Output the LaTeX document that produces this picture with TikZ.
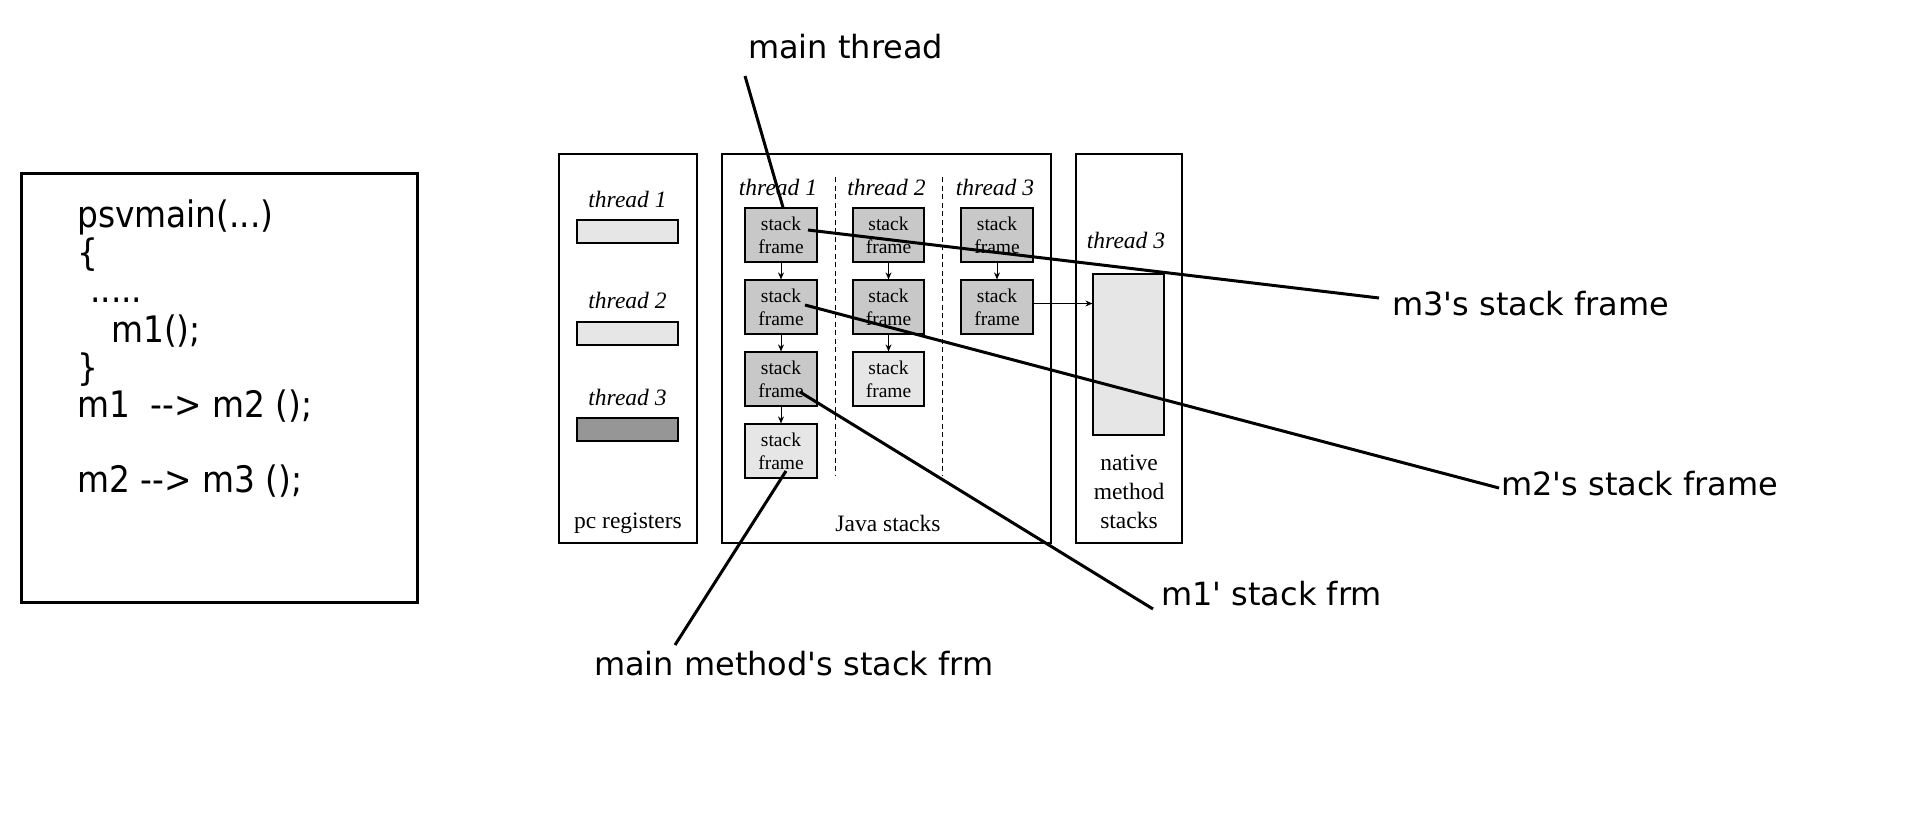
\documentclass[tikz,border=0pt]{standalone}
\usepackage{fontspec}
\usetikzlibrary{arrows.meta,calc}
\newfontfamily\lblfont{DejaVu Sans}
\newfontfamily\codefont[FakeStretch=0.9]{DejaVu Sans}
\newfontfamily\tmsfont{Liberation Serif}
\definecolor{sfdark}{RGB}{200,200,200}
\definecolor{sflight}{RGB}{230,230,230}
\definecolor{pcdark}{RGB}{150,150,150}
\begin{document}
\begin{tikzpicture}[x=1pt,y=-1pt,
  code/.style={anchor=base west, inner sep=0pt, font=\codefont\fontsize{36.5}{42}\selectfont},
  callout/.style={anchor=base west, inner sep=0pt, font=\lblfont\fontsize{32}{38}\selectfont},
  pointer/.style={line width=3pt},
  area/.style={draw, line width=1.2pt, minimum height=389pt, inner sep=0pt},
  sframe/.style={draw, line width=1.2pt, fill=sfdark, minimum width=72pt, minimum height=54pt,
    inner sep=0pt, align=center, font=\tmsfont\fontsize{19.5}{23}\selectfont},
  sfl/.style={sframe, fill=sflight},
  pcreg/.style={draw, line width=1.2pt, minimum width=101pt, minimum height=23pt, inner sep=0pt},
  thr/.style={anchor=base, inner sep=0pt, font=\tmsfont\itshape\fontsize{23.5}{28}\selectfont},
  areacaption/.style={anchor=base, inner sep=0pt, font=\tmsfont\fontsize{23.5}{29}\selectfont},
  push/.style={line width=1pt, -{Stealth[length=7pt,width=6pt]}},
  sep/.style={line width=0.9pt, dash pattern=on 5pt off 3.5pt}
]
\useasboundingbox (0,0) rectangle (1914,825);

% ---- source code box ----
\node[draw, line width=3pt, minimum width=395.5pt, minimum height=429pt, inner sep=0pt]
  (codebox) at (219.25,387.5) {};
\node[code] (c1) at (77,227) {psvmain(...)};
\node[code] (c2) at (77,265) {\{};
\node[code] (c3) at (90,302) {.....};
\node[code] (c4) at (111,342) {m1();};
\node[code] (c5) at (77,380) {\}};
\node[code] (c6) at (77,417) {m1\ \ -{}-{}>\ m2 ();};
\node[code] (c7) at (77,492) {m2 -{}-{}> m3 ();};

% ---- pc registers ----
\node[area, minimum width=138pt] (pcarea) at (628,348.5) {};
\node[thr] (pct1) at (627.5,207) {thread 1};
\node[pcreg, fill=sflight] (pcr1) at (627.5,231.5) {};
\node[thr] (pct2) at (627.5,308) {thread 2};
\node[pcreg, fill=sflight] (pcr2) at (627.5,333.5) {};
\node[thr] (pct3) at (627.5,405) {thread 3};
\node[pcreg, fill=pcdark] (pcr3) at (627.5,429.5) {};
\node[areacaption] (pccap) at (628,528) {pc registers};

% ---- Java stacks ----
\node[area, minimum width=329pt] (javaarea) at (886.5,348.5) {};
\node[thr] (jt1) at (778,195) {thread 1};
\node[thr] (jt2) at (886.5,195) {thread 2};
\node[thr] (jt3) at (995,195) {thread 3};
\node[areacaption] (javacap) at (888,531) {Java stacks};
\coordinate (sepa1) at (835,177);
\coordinate (sepa2) at (835,475);
\coordinate (sepb1) at (942,177);
\coordinate (sepb2) at (942,475);
\draw[sep] (sepa1) -- (sepa2);
\draw[sep] (sepb1) -- (sepb2);

\node[sframe] (t1a) at (781,235) {stack\\frame};
\node[sframe] (t1b) at (781,307) {stack\\frame};
\node[sframe] (t1c) at (781,379) {stack\\frame};
\node[sfl]    (t1d) at (781,451) {stack\\frame};
\node[sframe, minimum width=71pt] (t2a) at (888.5,235) {stack\\frame};
\node[sframe, minimum width=71pt] (t2b) at (888.5,307) {stack\\frame};
\node[sfl, minimum width=71pt]    (t2c) at (888.5,379) {stack\\frame};
\node[sframe] (t3a) at (997,235) {stack\\frame};
\node[sframe] (t3b) at (997,307) {stack\\frame};

\draw[push] (t1a.south) -- (t1b.north);
\draw[push] (t1b.south) -- (t1c.north);
\draw[push] (t1c.south) -- (t1d.north);
\draw[push] (t2a.south) -- (t2b.north);
\draw[push] (t2b.south) -- (t2c.north);
\draw[push] (t3a.south) -- (t3b.north);

% ---- native method stacks ----
\node[area, minimum width=106pt] (natarea) at (1129,348.5) {};
\node[thr] (nt3) at (1126,248) {thread 3};
\node[draw, line width=1.2pt, fill=sflight, minimum width=71pt, minimum height=161pt, inner sep=0pt]
  (nrect) at (1128.5,354.5) {};
\node[areacaption] (nat1) at (1129,470) {native};
\node[areacaption] (nat2) at (1129,499) {method};
\node[areacaption] (nat3) at (1129,528) {stacks};
\coordinate (t3out) at ($(t3b.east)+(0,-3.5)$);
\draw[push] (t3out) -- (t3out -| nrect.west);

% ---- callouts ----
\node[callout] (Lmt) at (748,58) {main thread};
\node[callout] (L3) at (1392,315) {m3's stack frame};
\node[callout] (L2) at (1501,495) {m2's stack frame};
\node[callout] (L1) at (1161,605) {m1' stack frm};
\node[callout] (Lmm) at (594,675) {main method's stack frm};

\draw[pointer] ($(Lmt.base west)+(-3,18)$) -- ($(t1a.north)+(2,0)$);
\draw[pointer] ($(t1a.center)+(27,-5)$) -- ($(L3.base west)+(-13,-17)$);
\draw[pointer] ($(t1b.center)+(24,-2)$) -- ($(L2.base west)+(-2,-7)$);
\draw[pointer] ($(t1c.center)+(19,13)$) -- ($(L1.base west)+(-8,4)$);
\draw[pointer] ($(t1d.center)+(5,20)$) -- ($(Lmm.base west)+(81,-30)$);
\end{tikzpicture}
\end{document}
